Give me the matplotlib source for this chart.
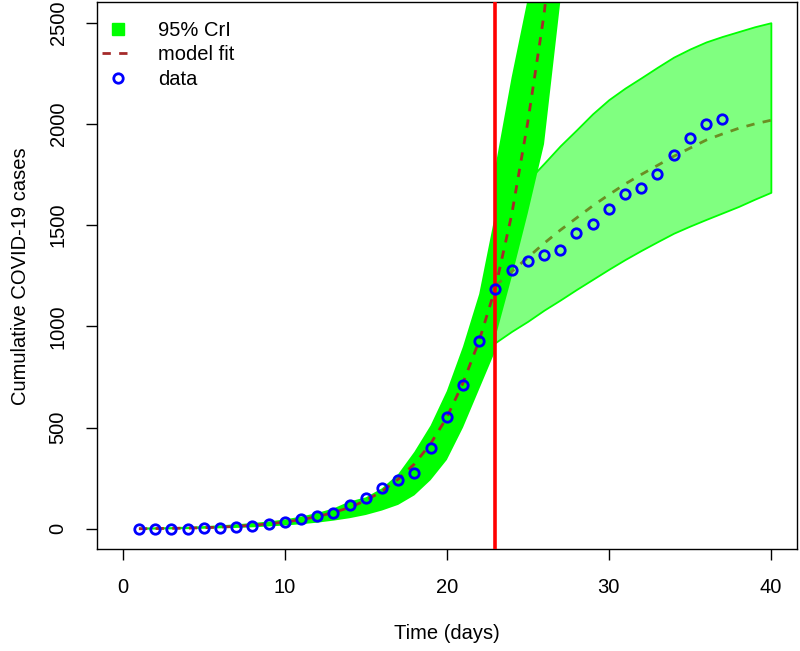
import numpy as np
import matplotlib.pyplot as plt
from matplotlib.lines import Line2D

plt.rcParams['font.family'] = ['Liberation Sans', 'DejaVu Sans']
plt.rcParams['font.size'] = 14.5

# observed cumulative cases, days 1..37
days = list(range(1, 38))
cases = [0, 0, 0, 1, 5, 5, 10, 12, 25, 35, 50, 62, 80, 115, 150, 200, 240, 275,
         400, 550, 710, 930, 1185, 1280, 1325, 1350, 1378, 1462, 1506, 1582, 1654,
         1684, 1752, 1846, 1932, 2001, 2026]

# model fit up to day 23 and its continuation (no intervention)
fit_days = list(range(1, 28))
fit_vals = [0, 1, 2, 3, 5, 8, 12, 17, 24, 33, 45, 60, 80, 105, 140, 185, 245, 320,
            420, 550, 720, 930, 1190, 1550, 2010, 2540, 3250]

# 95% CrI of the fit, days 1..23
cri_days = list(range(1, 24))
cri_hi = [6, 7, 8, 10, 13, 17, 22, 28, 36, 46, 60, 78, 100, 135, 155, 200, 270, 380,
          510, 680, 900, 1160, 1560]
cri_lo = [-5, -4, -3, -2, 0, 2, 4, 7, 11, 16, 22, 30, 40, 52, 68, 90, 118, 165,
          240, 340, 500, 690, 880]

# 95% CrI of the continuation, days 23..28
proj_days = [23, 24, 25, 26, 27, 28]
proj_hi = [1790, 2230, 2620, 3300, 4000, 4800]
proj_lo = [945, 1242, 1560, 1900, 2600, 3400]

# forecast after day 23
fc_days = list(range(23, 41))
fc_mid = [1200, 1270, 1340, 1410, 1475, 1535, 1595, 1650, 1703, 1750, 1795, 1840,
          1880, 1920, 1950, 1978, 2000, 2018]
fc_hi = [1480, 1610, 1720, 1805, 1892, 1970, 2050, 2120, 2177, 2228, 2280, 2330,
         2370, 2405, 2432, 2456, 2480, 2500]
fc_lo = [920, 975, 1025, 1080, 1130, 1182, 1232, 1282, 1330, 1375, 1418, 1460,
         1495, 1528, 1560, 1592, 1628, 1662]

t_cut = 23

fig = plt.figure(figsize=(8, 6.51), dpi=100)
ax = fig.add_axes([0.121, 0.1567, 0.875, 0.8395])

# forecast band (light)
ax.fill_between(fc_days, fc_lo, fc_hi, facecolor='#80FF80', edgecolor='#00FF00',
                linewidth=1.3, zorder=1)
# fit bands (bright)
ax.fill_between(cri_days, cri_lo, cri_hi, facecolor='#00FF00', edgecolor='none', zorder=2)
ax.fill_between(proj_days, proj_lo, proj_hi, facecolor='#00FF00', edgecolor='none', zorder=2)

ax.plot(fc_days, fc_mid, color='#6B8E23', lw=2, linestyle=(0, (3, 3)), zorder=3)
ax.plot(fit_days, fit_vals, color='#A52A2A', lw=2, linestyle=(0, (3, 3)), zorder=4)
ax.axvline(t_cut, color='red', lw=2.6, zorder=5)
ax.plot(days, cases, linestyle='none', marker='o', markersize=6.8, mfc='none',
        mec='blue', mew=2, zorder=6)

ax.set_xlim(-1.6, 41.6)
ax.set_ylim(-100, 2600)
ax.set_xticks([0, 10, 20, 30, 40])
ax.set_yticks([0, 500, 1000, 1500, 2000, 2500])
ax.tick_params(direction='out', length=8, width=1, pad=13)
for lab in ax.get_yticklabels():
    lab.set_rotation(90)
    lab.set_va('center')
for s in ax.spines.values():
    s.set_linewidth(1)

ax.set_xlabel('Time (days)')
ax.set_ylabel('Cumulative COVID-19 cases')
ax.xaxis.set_label_coords(0.5, -0.137)
ax.yaxis.set_label_coords(-0.095, 0.5)

handles = [
    Line2D([], [], linestyle='none', marker='s', markersize=8, color='#00FF00'),
    Line2D([], [], color='#A52A2A', lw=2, linestyle=(0, (3, 3))),
    Line2D([], [], linestyle='none', marker='o', markersize=6.8, mfc='none',
           mec='blue', mew=2),
]
ax.legend(handles, ['95% CrI', 'model fit', 'data'], loc='upper left',
          bbox_to_anchor=(0.008, 0.966), frameon=False, borderpad=0,
          borderaxespad=0, handlelength=1.55, handletextpad=1.2,
          labelspacing=0.27, fontsize=14.5)

fig.savefig('out.png', dpi=100)
